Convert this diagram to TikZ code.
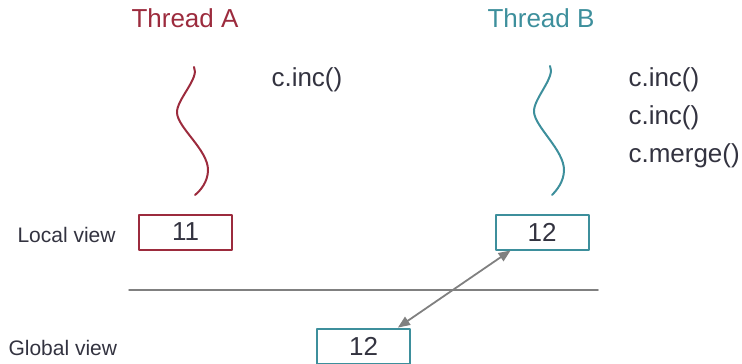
\documentclass[tikz,border=0pt]{standalone}
\usepackage{fontspec}
\setmainfont{Liberation Sans}
\usepackage{tikz}
\usetikzlibrary{calc}
\usetikzlibrary{arrows}
\definecolor{threada}{rgb}{0.61,0.17,0.24}
\definecolor{threadb}{rgb}{0.24,0.56,0.61}
\definecolor{txtgray}{rgb}{0.2,0.2,0.25}
\definecolor{linegray}{rgb}{0.5,0.5,0.5}
\tikzset{
  bigtext/.style={font=\fontsize{26}{30}\selectfont,text=txtgray},
  viewtext/.style={font=\fontsize{21}{25}\selectfont,text=txtgray,anchor=west},
  valbox/.style={draw,line width=2pt,minimum width=93pt,minimum height=35pt,inner sep=0pt,font=\fontsize{26}{30}\selectfont,text=txtgray}
}
\begin{document}
\begin{tikzpicture}[line cap=round,line join=round,>=triangle 45,x=1pt,y=-1pt]
  \useasboundingbox (0,0) rectangle (742,364);
  % thread titles
  \node[bigtext,text=threada] (titleA) at (185,18) {Thread A};
  \node[bigtext,text=threadb] (titleB) at (541,18) {Thread B};
  % thread lines
  \draw[threada,line width=2pt] (194,67) .. controls (200,78) and (176,100) .. (177,113)
    .. controls (178,128) and (208,150) .. (208,170) .. controls (208,182) and (200,191) .. (195,195);
  \draw[threadb,line width=2pt] (550,66) .. controls (556,77) and (533,99) .. (534,112)
    .. controls (535,127) and (564,150) .. (564,170) .. controls (564,182) and (556,191) .. (552,195);
  % operations
  \node[bigtext,anchor=west] (opA) at (268,80) {c.inc()};
  \node[bigtext,anchor=west] (opB1) at (625,80) {c.inc()};
  \node[bigtext,anchor=west] (opB2) at (625,118) {c.inc()};
  \node[bigtext,anchor=west] (opB3) at (625,156) {c.merge()};
  % views
  \node[viewtext] (localview) at (14,235) {Local view};
  \node[viewtext] (globalview) at (5,348) {Global view};
  \node[valbox,draw=threada] (localA) at (185.5,232) {11};
  \node[valbox,draw=threadb] (localB) at (542,232) {12};
  \node[valbox,draw=threadb] (global) at (363.5,346) {12};
  \draw[linegray,line width=1.5pt] (129,290) -- (598,290);
  \draw[<->,linegray,line width=1.8pt] ([xshift=-13pt]global.north east) -- ([xshift=16pt]localB.south west);
\end{tikzpicture}
\end{document}
